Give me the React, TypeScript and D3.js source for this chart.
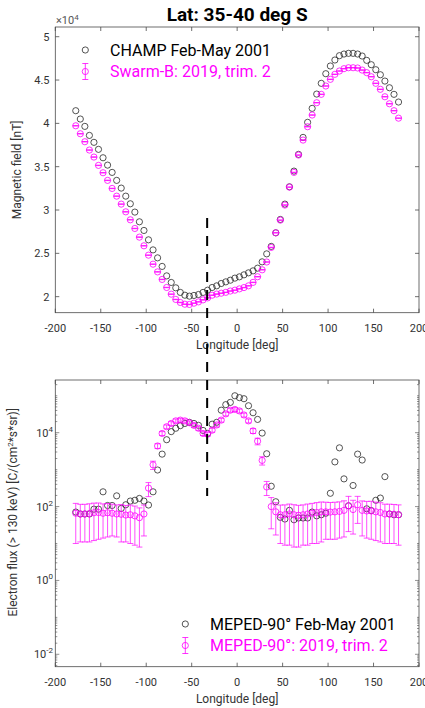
import React from 'react';
import * as d3 from 'd3';

const longitude = [
  -177.5, -172.5, -167.5, -162.5, -157.5, -152.5, -147.5, -142.5, -137.5, -132.5,
  -127.5, -122.5, -117.5, -112.5, -107.5, -102.5, -97.5, -92.5, -87.5, -82.5,
  -77.5, -72.5, -67.5, -62.5, -57.5, -52.5, -47.5, -42.5, -37.5, -32.5,
  -27.5, -22.5, -17.5, -12.5, -7.5, -2.5, 2.5, 7.5, 12.5, 17.5,
  22.5, 27.5, 32.5, 37.5, 42.5, 47.5, 52.5, 57.5, 62.5, 67.5,
  72.5, 77.5, 82.5, 87.5, 92.5, 97.5, 102.5, 107.5, 112.5, 117.5,
  122.5, 127.5, 132.5, 137.5, 142.5, 147.5, 152.5, 157.5, 162.5, 167.5,
  172.5, 177.5,
];

// Magnetic field [nT]
const champField = [
  41460, 40500, 39650, 38610, 37810, 37000, 36030, 35180, 34340, 33420,
  32530, 31600, 30720, 29760, 28640, 27640, 26560, 25400, 24480, 23490,
  22400, 21640, 21020, 20490, 20170, 20060, 20140, 20250, 20490, 20750,
  21060, 21250, 21520, 21710, 21900, 22140, 22290, 22520, 22750, 22980,
  23290, 24020, 24940, 25800, 27370, 28910, 30680, 32680, 34490, 36420,
  38380, 40120, 41730, 43380, 44620, 45730, 46620, 47310, 47810, 48000,
  48080, 48080, 48000, 47770, 47270, 46770, 46190, 45610, 44880, 44110,
  43350, 42460,
];

const swarmField = [
  39720, 38800, 37880, 36920, 36110, 35150, 34300, 33420, 32490, 31600,
  30680, 29790, 28870, 27870, 26870, 25870, 24790, 23750, 22860, 21990,
  21060, 20290, 19680, 19330, 19130, 19100, 19250, 19400, 19630, 19860,
  20170, 20300, 20400, 20500, 20650, 20750, 20900, 21050, 21250, 21650,
  22300, 23100, 24000, 25680, 27370, 28830, 30570, 32640, 34340, 36340,
  38070, 39610, 40960, 42380, 43350, 44310, 45080, 45660, 46040, 46310,
  46420, 46420, 46390, 46150, 45850, 45380, 44620, 43930, 43070, 42260,
  41460, 40600,
];

const swarmFieldStd = [
  25, 25, 25, 25, 25, 25, 25, 25, 25, 25, 25, 25, 25, 25, 25, 25, 25, 25,
  25, 25, 25, 25, 25, 25, 25, 25, 25, 25, 25, 25, 25, 25, 25, 25, 25, 25,
  25, 25, 25, 25, 25, 25, 25, 25, 25, 25, 25, 25, 25, 25, 25, 25, 25, 25,
  25, 25, 25, 25, 25, 25, 25, 25, 25, 25, 25, 25, 25, 25, 25, 25, 25, 25,
];

// Electron flux (> 130 keV)
const mepedOld = [
  71, 63, 63, 63, 85, 85, 251, 107, 107, 195,
  89, 112, 141, 148, 166, 141, 110, 251, 977, 2630,
  6460, 10700, 13200, 15500, 17800, 19100, 17800, 15800, 11500, 9550,
  17000, 19100, 40700, 57500, 66100, 100000, 89100, 83200, 53700, 34700,
  22900, 9770, 2690, 355, 135, 51, 46, 79, 44, 49,
  49, 49, 71, 56, 60, 66, 229, 1620, 3890, 562,
  105, 372, 2630, 1820, 87, 78, 148, 170, 646, 63,
  60, 60,
];

const mepedNew = [
  66, 63, 63, 65, 68, 69, 66, 68, 66, 63,
  62, 59, 60, 56, 50, 63, 316, 1350, 4370, 9550,
  14500, 17800, 20900, 21900, 20900, 18600, 15800, 13200, 9550, 9120,
  11700, 16200, 21900, 32400, 40700, 42700, 38900, 30200, 20900, 11200,
  5890, 1780, 339, 100, 72, 60, 60, 63, 60, 58,
  60, 63, 66, 69, 72, 72, 71, 72, 74, 79,
  105, 83, 112, 79, 76, 76, 72, 69, 63, 63,
  62, 60,
];

const mepedNewStd = [
  56, 52, 52, 54, 56, 56, 52, 53, 50, 48,
  51, 48, 50, 47, 42, 47, 130, 340, 650, 1150,
  1700, 2100, 2500, 2600, 2500, 2200, 1900, 1600, 1150, 1100,
  1400, 1900, 2600, 3900, 4900, 5100, 4700, 3600, 2500, 1700,
  1200, 450, 140, 75, 55, 50, 51, 54, 52, 50,
  51, 54, 56, 59, 61, 59, 58, 59, 60, 64,
  84, 65, 77, 63, 62, 63, 60, 58, 53, 53,
  52, 51,
];

const xTicks = [-200, -150, -100, -50, 0, 50, 100, 150, 200];
const fieldTicks = [20000, 25000, 30000, 35000, 40000, 45000, 50000];
const fieldTickLabels = ['2', '2.5', '3', '3.5', '4', '4.5', '5'];
const fluxLabelExponents = [-2, 0, 2, 4];
const dashedLongitude = -33;

const TITLE = 'Lat: 35-40 deg S';
const legendTop = ['CHAMP Feb-May 2001', 'Swarm-B: 2019, trim. 2'];
const legendBottom = ['MEPED-90° Feb-May 2001', 'MEPED-90°: 2019, trim. 2'];

const AX = '#4a4a4a';
const TXT = '#333333';
const BLK = '#2a2a2a';
const MAG = '#ff00ff';
const FONT = 'Roboto, "Noto Sans", sans-serif';

export default function App() {
  const W = 425;
  const H = 708;
  const L = 55.3;
  const R = 419;
  const t1 = 27;
  const b1 = 312.7;
  const t2 = 380;
  const b2 = 666.7;
  const r = 3.1;
  const cap = 3;

  const x = d3.scaleLinear().domain([-200, 200]).range([L, R]);
  const y1 = d3.scaleLinear().domain([18150, 51120]).range([b1, t1]);
  const y2 = d3.scaleLog().domain([Math.pow(10, -2.336), Math.pow(10, 5.427)]).range([b2, t2]);

  const minor: { v: number; major: boolean }[] = [];
  for (let e = -3; e <= 5; e++) {
    for (let d = 1; d <= 9; d++) {
      const v = d * Math.pow(10, e);
      const yy = y2(v);
      if (yy <= b2 && yy >= t2) minor.push({ v, major: d === 1 && e % 2 === 0 });
    }
  }

  const xAxis = (top: number, bottom: number, key: string) => (
    <g key={key}>
      <rect x={L} y={top} width={R - L} height={bottom - top} fill="none" stroke={AX} strokeWidth={0.8} />
      {xTicks.map((t) => (
        <g key={t}>
          <line x1={x(t)} x2={x(t)} y1={bottom} y2={bottom - 4} stroke={AX} strokeWidth={0.8} />
          <line x1={x(t)} x2={x(t)} y1={top} y2={top + 4} stroke={AX} strokeWidth={0.8} />
          <text x={x(t)} y={bottom + 19.5} textAnchor="middle" fontSize={11} fill={TXT} fontFamily={FONT}>
            {t}
          </text>
        </g>
      ))}
      <text x={(L + R) / 2} y={bottom + 36.5} textAnchor="middle" fontSize={12} fill={TXT} fontFamily={FONT}>
        Longitude [deg]
      </text>
    </g>
  );

  return (
    <svg width={W} height={H} style={{ position: 'absolute', left: 0, top: 0, background: '#fff' }}>
      <rect width={W} height={H} fill="#fff" />
      {/* Title */}
      <text x={(L + R) / 2} y={20.5} textAnchor="middle" fontSize={19} fontWeight="bold" fill="#000" fontFamily={FONT}>
        {TITLE}
      </text>

      {/* ---------- Top panel ---------- */}
      {xAxis(t1, b1, 'ax1')}
      {fieldTicks.map((t, i) => (
        <g key={t}>
          <line x1={L} x2={L + 4} y1={y1(t)} y2={y1(t)} stroke={AX} strokeWidth={0.8} />
          <line x1={R} x2={R - 4} y1={y1(t)} y2={y1(t)} stroke={AX} strokeWidth={0.8} />
          <text x={49.5} y={y1(t) + 4} textAnchor="end" fontSize={11} fill={TXT} fontFamily={FONT}>
            {fieldTickLabels[i]}
          </text>
        </g>
      ))}
      <text x={56} y={24} fontSize={11} fill="#555" fontFamily={FONT}>
        ×10<tspan dy={-4} fontSize={8}>4</tspan>
      </text>
      <text
        transform={`translate(21,${(t1 + b1) / 2}) rotate(-90)`}
        textAnchor="middle"
        fontSize={12}
        fill={TXT}
        fontFamily={FONT}
      >
        Magnetic field [nT]
      </text>

      {champField.map((v, i) => (
        <circle key={'c' + i} cx={x(longitude[i])} cy={y1(v)} r={r} fill="none" stroke={BLK} strokeWidth={0.8} />
      ))}
      {swarmField.map((v, i) => {
        const cx = x(longitude[i]);
        const lo = y1(v - swarmFieldStd[i]);
        const hi = y1(v + swarmFieldStd[i]);
        return (
          <g key={'s' + i} stroke={MAG} strokeWidth={0.8} fill="none">
            <line x1={cx} x2={cx} y1={lo} y2={hi} />
            <line x1={cx - cap} x2={cx + cap} y1={lo} y2={lo} />
            <line x1={cx - cap} x2={cx + cap} y1={hi} y2={hi} />
            <circle cx={cx} cy={y1(v)} r={r} />
          </g>
        );
      })}

      {/* top legend */}
      <circle cx={85.3} cy={50} r={r} fill="none" stroke={BLK} strokeWidth={0.8} />
      <text x={110} y={55.8} fontSize={16} fill="#000" fontFamily={FONT}>
        {legendTop[0]}
      </text>
      <g stroke={MAG} strokeWidth={0.8} fill="none">
        <line x1={85.3} x2={85.3} y1={63.5} y2={79.5} />
        <line x1={82.3} x2={88.3} y1={63.5} y2={63.5} />
        <line x1={82.3} x2={88.3} y1={79.5} y2={79.5} />
        <circle cx={85.3} cy={71.5} r={r} />
      </g>
      <text x={110} y={77.3} fontSize={16} fill={MAG} fontFamily={FONT}>
        {legendTop[1]}
      </text>

      {/* ---------- Bottom panel ---------- */}
      {xAxis(t2, b2, 'ax2')}
      {minor.map((m, i) => (
        <g key={'m' + i}>
          <line x1={L} x2={L + (m.major ? 4 : 2)} y1={y2(m.v)} y2={y2(m.v)} stroke={AX} strokeWidth={0.6} />
          <line x1={R} x2={R - (m.major ? 4 : 2)} y1={y2(m.v)} y2={y2(m.v)} stroke={AX} strokeWidth={0.6} />
        </g>
      ))}
      {fluxLabelExponents.map((e) => (
        <text key={'e' + e} x={53} y={y2(Math.pow(10, e)) + 4} textAnchor="end" fontSize={11} fill={TXT} fontFamily={FONT}>
          10<tspan dy={-5} fontSize={8}>{e}</tspan>
        </text>
      ))}
      <text
        transform={`translate(17,${(t2 + b2) / 2 - 11}) rotate(-90)`}
        textAnchor="middle"
        fontSize={12}
        fill={TXT}
        fontFamily={FONT}
      >
        Electron flux (&gt; 130 keV) [C/(cm<tspan dy={-4} fontSize={8}>2</tspan>
        <tspan dy={4}>*s*sr)]</tspan>
      </text>

      {mepedOld.map((v, i) => (
        <circle key={'o' + i} cx={x(longitude[i])} cy={y2(v)} r={r} fill="none" stroke={BLK} strokeWidth={0.8} />
      ))}
      {mepedNew.map((v, i) => {
        const cx = x(longitude[i]);
        const lo = y2(v - mepedNewStd[i]);
        const hi = y2(v + mepedNewStd[i]);
        return (
          <g key={'n' + i} stroke={MAG} strokeWidth={0.7} fill="none">
            <line x1={cx} x2={cx} y1={lo} y2={hi} />
            <line x1={cx - cap} x2={cx + cap} y1={lo} y2={lo} />
            <line x1={cx - cap} x2={cx + cap} y1={hi} y2={hi} />
            <circle cx={cx} cy={y2(v)} r={r} strokeWidth={0.8} />
          </g>
        );
      })}

      {/* bottom legend */}
      <circle cx={185.3} cy={624} r={r} fill="none" stroke={BLK} strokeWidth={0.8} />
      <text x={210} y={629.8} fontSize={16} fill="#000" fontFamily={FONT}>
        {legendBottom[0]}
      </text>
      <g stroke={MAG} strokeWidth={0.8} fill="none">
        <line x1={185.3} x2={185.3} y1={637.5} y2={653.5} />
        <line x1={182.3} x2={188.3} y1={637.5} y2={637.5} />
        <line x1={182.3} x2={188.3} y1={653.5} y2={653.5} />
        <circle cx={185.3} cy={645.5} r={r} />
      </g>
      <text x={210} y={651.3} fontSize={16} fill={MAG} fontFamily={FONT}>
        {legendBottom[1]}
      </text>

      {/* dashed vertical marker across both panels */}
      <line
        x1={x(dashedLongitude)}
        x2={x(dashedLongitude)}
        y1={218}
        y2={496}
        stroke="#000"
        strokeWidth={2}
        strokeDasharray="10,8"
      />
    </svg>
  );
}
